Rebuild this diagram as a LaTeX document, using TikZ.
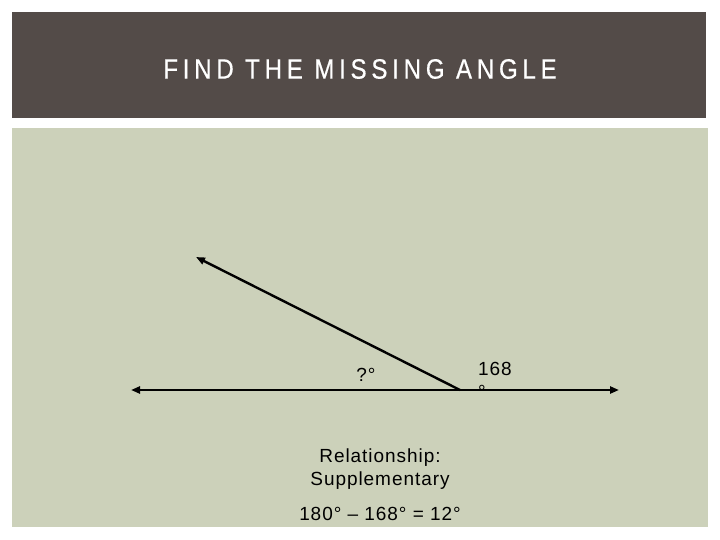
\documentclass[tikz,border=0pt]{standalone}
\usepackage{fontspec}
\usepackage{xcolor}
\setmainfont{Liberation Sans}
\newfontfamily\headfont[LetterSpace=17,FakeStretch=0.86,FakeBold=0.5]{Liberation Sans}
\newfontfamily\bodyfont[LetterSpace=5]{Liberation Sans}
\usetikzlibrary{arrows.meta}
\definecolor{headbrown}{HTML}{534B48}
\definecolor{sage}{HTML}{CCD1BA}

\begin{document}
\begin{tikzpicture}[x=1pt, y=-1pt, line width=2.4pt,
        >={Triangle[length=9pt,width=7pt]},
        lbl/.style={inner sep=0pt, text=black, font=\bodyfont\fontsize{19}{23}\selectfont}]
        \useasboundingbox (0,0) rectangle (720,540);
        \fill[headbrown] (12,12) rectangle (706,118);
        \fill[sage] (12,128) rectangle (708,527);
        \node[inner sep=0pt, text=white, font=\headfont\fontsize{28}{32}\selectfont] (title) at (360,69) {FIND THE MISSING ANGLE};

        \coordinate (v) at (460,390);
        \coordinate (l) at (131,390);
        \coordinate (r) at (619,390);
        \coordinate (u) at (196,257);

        \draw[<->] (l) to (r);
        \draw[->] (v) to (u);

        \node[lbl] (q) at (366,375) {?°};
        \node[lbl, align=left, anchor=north west] (given) at (477,361) {168\\°};
        \node[lbl] (rel) at (380,458) {Relationship:};
        \node[lbl] (supp) at (380,481) {Supplementary};
        \node[lbl] (calc) at (380,514) {180° – 168° = 12°};
    \end{tikzpicture}
\end{document}
